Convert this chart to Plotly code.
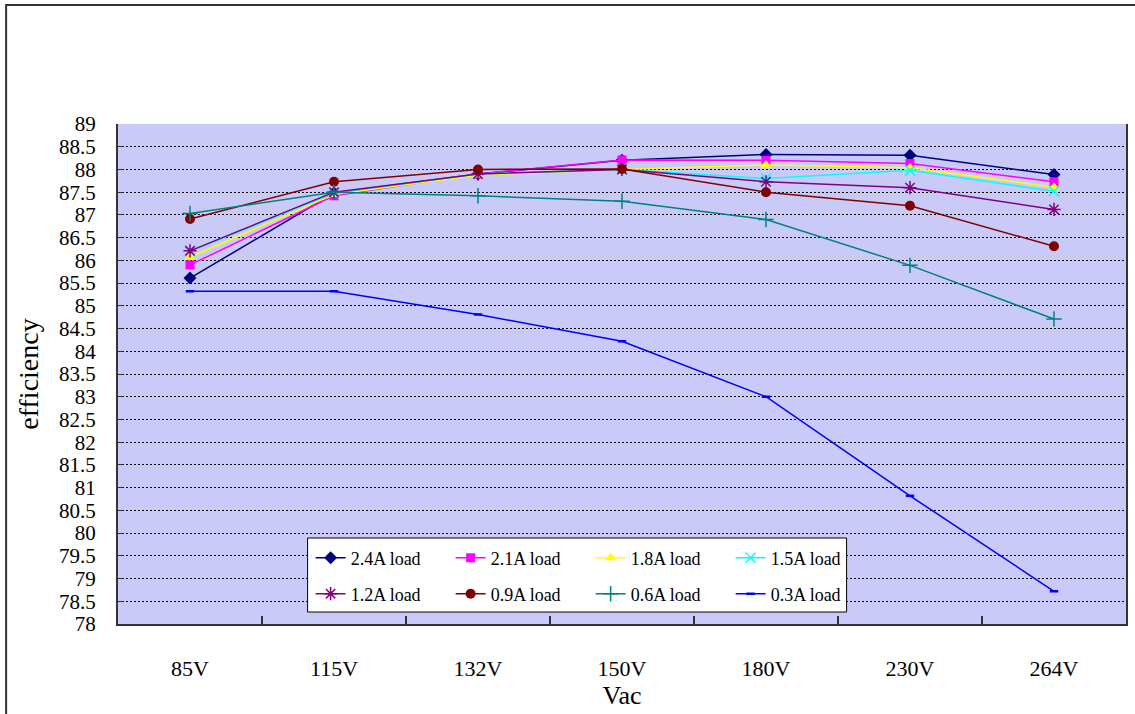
import plotly.graph_objects as go

categories = ["85V", "115V", "132V", "150V", "180V", "230V", "264V"]

eff_24 = [85.61, 87.48, 87.90, 88.20, 88.33, 88.31, 87.89]
eff_21 = [85.90, 87.42, 87.90, 88.21, 88.20, 88.13, 87.73]
eff_18 = [86.07, 87.45, 87.88, 88.00, 88.10, 88.04, 87.61]
eff_15 = [86.20, 87.48, 87.90, 88.00, 87.80, 87.98, 87.52]
eff_12 = [86.21, 87.50, 87.90, 88.00, 87.73, 87.60, 87.12]
eff_09 = [86.91, 87.73, 88.00, 88.01, 87.50, 87.20, 86.31]
eff_06 = [87.03, 87.50, 87.42, 87.30, 86.90, 85.89, 84.71]
eff_03 = [85.32, 85.32, 84.81, 84.22, 83.00, 80.82, 78.72]

series_names = ["2.4A load", "2.1A load", "1.8A load", "1.5A load",
                "1.2A load", "0.9A load", "0.6A load", "0.3A load"]

y_tickvals = [78 + 0.5 * i for i in range(23)]
y_ticktext = ["78", "78.5", "79", "79.5", "80", "80.5", "81", "81.5", "82", "82.5",
              "83", "83.5", "84", "84.5", "85", "85.5", "86", "86.5", "87", "87.5",
              "88", "88.5", "89"]

SERIF = "Liberation Serif, Times New Roman, serif"

styles = [
    dict(color="#000080", symbol="diamond", size=10, lw=0),
    dict(color="#FF00FF", symbol="square", size=9, lw=0),
    dict(color="#FFFF00", symbol="triangle-up", size=10, lw=0),
    dict(color="#00FFFF", symbol="x-thin", size=10, lw=1.5),
    dict(color="#800080", symbol="asterisk", size=11, lw=1.5),
    dict(color="#800000", symbol="circle", size=10, lw=0),
    dict(color="#008080", symbol="cross-thin", size=11, lw=1.5),
    dict(color="#0000FF", symbol="line-ew", size=6, lw=2.5),
]

data = [eff_24, eff_21, eff_18, eff_15, eff_12, eff_09, eff_06, eff_03]

fig = go.Figure()
for i, (name, vals, st) in enumerate(zip(series_names, data, styles)):
    fig.add_trace(go.Scatter(
        x=categories, y=vals, name=name, mode="lines+markers",
        line=dict(color=st["color"], width=1.5),
        marker=dict(symbol=st["symbol"], size=st["size"], color=st["color"],
                    line=dict(color=st["color"], width=st["lw"])),
        legend="legend" if i < 4 else "legend2",
    ))

legend_common = dict(
    orientation="h", bgcolor="rgba(0,0,0,0)", borderwidth=0,
    font=dict(family=SERIF, size=18, color="black"),
    entrywidth=95, entrywidthmode="pixels", itemwidth=30,
    xanchor="left", yanchor="middle", tracegroupgap=0,
)

fig.update_layout(
    width=1135, height=714,
    margin=dict(l=118, r=7, t=124, b=90),
    paper_bgcolor="white",
    plot_bgcolor="#CACAF8",
    showlegend=True,
    legend=dict(x=0.1911, y=0.132, **legend_common),
    legend2=dict(x=0.1911, y=0.060, **legend_common),
    xaxis=dict(
        type="category", categoryorder="array", categoryarray=categories,
        tickson="boundaries", ticks="inside", ticklen=8, tickcolor="#333333", tickwidth=1.5,
        showline=True, linecolor="#333333", linewidth=2, showgrid=False,
        tickfont=dict(family=SERIF, size=22, color="black"),
        ticklabelstandoff=24,
        title=dict(text="Vac", font=dict(family=SERIF, size=26, color="black"), standoff=4),
        range=[-0.5, 6.5], zeroline=False,
    ),
    yaxis=dict(
        range=[78, 89], tickvals=y_tickvals, ticktext=y_ticktext,
        ticks="inside", ticklen=5, tickcolor="#333333",
        showline=True, linecolor="#333333", linewidth=2, mirror=True,
        showgrid=True, gridcolor="black", gridwidth=1, griddash="2px,2px",
        tickfont=dict(family=SERIF, size=21, color="black"),
        ticklabelstandoff=16,
        title=dict(text="efficiency", font=dict(family=SERIF, size=28, color="black"), standoff=12),
        zeroline=False,
    ),
    shapes=[
        dict(type="rect", xref="paper", yref="paper", x0=0.1881, x1=0.7228, y0=0.024, y1=0.172,
             fillcolor="white", line=dict(color="black", width=1), layer="above"),
        dict(type="rect", xref="paper", yref="paper", x0=-0.111, x1=1.02, y0=-0.2, y1=1.238,
             fillcolor="rgba(0,0,0,0)", line=dict(color="#333333", width=2), layer="above"),
    ],
)

fig.write_html("out.html")
